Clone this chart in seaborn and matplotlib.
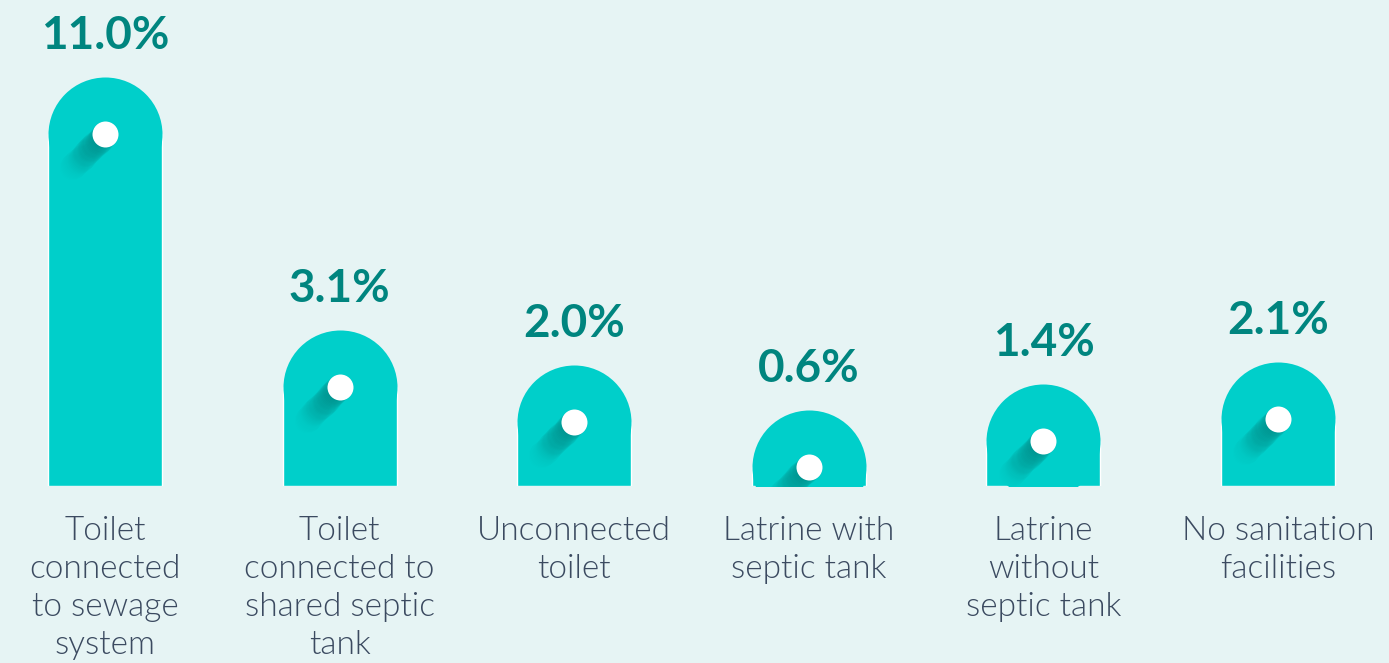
import matplotlib
matplotlib.use("Agg")
import matplotlib.pyplot as plt
import matplotlib.transforms as mtransforms
import seaborn as sns
import pandas as pd

# DATA
categories = ["Sewage", "Shared septic", "Unconnected", "Latrine septic", "Latrine no septic", "None"]
values = [11.0, 3.1, 2.0, 0.6, 1.4, 2.1]
value_labels = ["11.0%", "3.1%", "2.0%", "0.6%", "1.4%", "2.1%"]
tick_labels = [
    "Toilet\nconnected\nto sewage\nsystem",
    "Toilet\nconnected to\nshared septic\ntank",
    "Unconnected\ntoilet",
    "Latrine with\nseptic tank",
    "Latrine\nwithout\nseptic tank",
    "No sanitation\nfacilities",
]

bg = "#E6F4F4"
bar_col = "#00CFCA"
dark = "#00857F"
text_col = "#3B4A60"

sns.set_theme(style="white")
plt.rcParams["font.family"] = ["Lato", "DejaVu Sans"]

df = pd.DataFrame({"cat": categories, "val": values})

fig = plt.figure(figsize=(13.89, 6.63), dpi=100, facecolor=bg)
ax = fig.add_axes([0, 0.267, 1, 0.733])
ax.set_facecolor(bg)

sns.barplot(data=df, x="cat", y="val", color=bar_col, saturation=1, width=0.486, ax=ax, zorder=2)
ax.set_xlim(-0.4476, 5.473)
ax.set_ylim(0, 15.2)

# rounded caps: circle markers centred on each bar top (114 px wide)
cap = (114 * 0.72) ** 2
ax.scatter(range(len(values)), values, s=cap, color=bar_col, linewidths=0, zorder=3)

# shadow + white dot
dot = (26 * 0.72) ** 2
n = 32
for k in range(n):
    d = k * 1.5
    tr = mtransforms.offset_copy(ax.transData, fig=fig, x=-d / 1.414, y=-d / 1.414, units="dots")
    ax.scatter(range(len(values)), values, s=dot, color="#007C78", alpha=0.07 * (1 - k / n),
               linewidths=0, transform=tr, zorder=4)
ax.scatter(range(len(values)), values, s=dot, color="white", linewidths=0, zorder=5)

for i, (v, lab) in enumerate(zip(values, value_labels)):
    ax.annotate(lab, (i, v), xytext=(0, 57 + 41), textcoords="offset pixels",
                ha="center", va="center", fontsize=33, fontweight="bold", color=dark)

ax.set_xticks(range(len(values)))
ax.set_xticklabels(tick_labels, fontsize=24, color=text_col, fontweight=300)
for t in ax.get_xticklabels():
    t.set_linespacing(1.33)
ax.tick_params(axis="x", length=0, pad=21.5)
ax.set_yticks([])
ax.set_xlabel("")
ax.set_ylabel("")
sns.despine(ax=ax, left=True, bottom=True)

fig.savefig("out.png", dpi=100, facecolor=bg)
